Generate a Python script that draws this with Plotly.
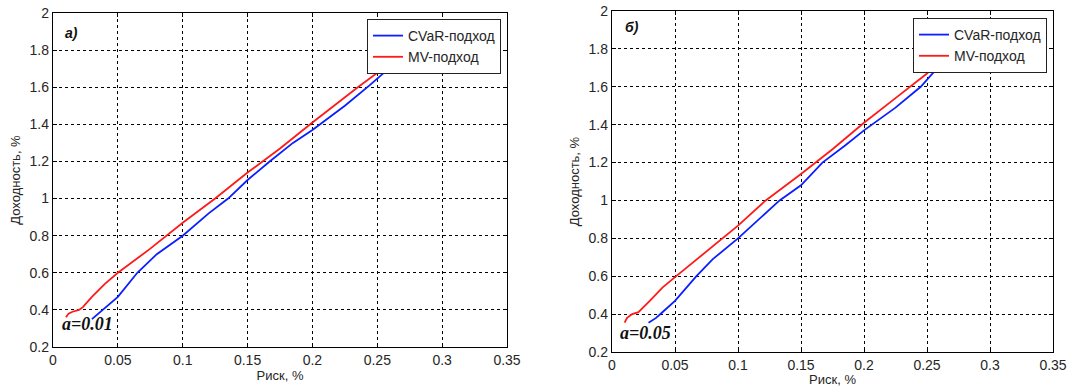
import plotly.graph_objects as go

# ---- data (risk %, return %) ----
# panel a) alpha = 0.01
cvar_risk_a = [0.030, 0.035, 0.040, 0.050, 0.065, 0.080, 0.100, 0.120, 0.135, 0.150,
               0.167, 0.185, 0.200, 0.206, 0.225, 0.244, 0.267, 0.285]
cvar_ret_a = [0.35, 0.38, 0.41, 0.47, 0.60, 0.70, 0.80, 0.92, 1.00, 1.10,
              1.20, 1.30, 1.37, 1.40, 1.50, 1.61, 1.75, 1.85]
mv_risk_a = [0.010, 0.012, 0.015, 0.020, 0.023, 0.030, 0.040, 0.050, 0.075, 0.100,
             0.125, 0.150, 0.175, 0.200, 0.235, 0.250, 0.264, 0.285]
mv_ret_a = [0.36, 0.38, 0.39, 0.40, 0.415, 0.47, 0.54, 0.60, 0.73, 0.87,
            1.00, 1.14, 1.27, 1.41, 1.60, 1.68, 1.75, 1.86]

# panel б) alpha = 0.05
cvar_risk_b = [0.029, 0.035, 0.040, 0.050, 0.067, 0.080, 0.100, 0.120, 0.133, 0.150,
               0.167, 0.185, 0.200, 0.225, 0.245, 0.265, 0.285]
cvar_ret_b = [0.355, 0.38, 0.41, 0.47, 0.60, 0.69, 0.80, 0.92, 1.00, 1.08,
              1.20, 1.29, 1.37, 1.49, 1.60, 1.75, 1.86]
mv_risk_b = [0.010, 0.012, 0.016, 0.021, 0.030, 0.040, 0.050, 0.075, 0.100, 0.122,
             0.150, 0.175, 0.200, 0.225, 0.250, 0.261, 0.285]
mv_ret_b = [0.355, 0.38, 0.40, 0.41, 0.47, 0.54, 0.595, 0.73, 0.867, 1.00,
            1.14, 1.27, 1.41, 1.54, 1.67, 1.75, 1.87]

series_names = ["CVaR-подход", "MV-подход"]
panel_labels = ["а)", "б)"]
alpha_labels = ["a=0.01", "a=0.05"]
x_title = "Риск, %"
y_title = "Доходность, %"
x_ticks = [0, 0.05, 0.1, 0.15, 0.2, 0.25, 0.3, 0.35]
x_ticktext = ["0", "0.05", "0.1", "0.15", "0.2", "0.25", "0.3", "0.35"]
y_ticks = [0.2, 0.4, 0.6, 0.8, 1.0, 1.2, 1.4, 1.6, 1.8, 2.0]
y_ticktext = ["0.2", "0.4", "0.6", "0.8", "1", "1.2", "1.4", "1.6", "1.8", "2"]

W, H = 1068, 387
BLUE = "#0a1eff"
RED = "#ff1a1a"
SANS = "Liberation Sans, Arial, sans-serif"
SERIF = "Liberation Serif, Times New Roman, serif"
TXT = "#262626"

fig = go.Figure()

panels = [
    dict(xa="x", ya="y", leg="legend", cv=(cvar_risk_a, cvar_ret_a), mv=(mv_risk_a, mv_ret_a),
         xdom=(53 / W, 507 / W), ydom=(1 - 347 / H, 1 - 13 / H),
         legpos=(367 / W, 1 - 19 / H), plab=(0.0077, 1.892), alab=(0.0054, 0.326)),
    dict(xa="x2", ya="y2", leg="legend2", cv=(cvar_risk_b, cvar_ret_b), mv=(mv_risk_b, mv_ret_b),
         xdom=(612 / W, 1053 / W), ydom=(1 - 352 / H, 1 - 11 / H),
         legpos=(913 / W, 1 - 18 / H), plab=(0.0087, 1.916), alab=(0.005, 0.302)),
]

layout = dict(
    template="none",
    width=W, height=H,
    margin=dict(l=0, r=0, t=0, b=0),
    paper_bgcolor="white", plot_bgcolor="white",
    font=dict(family=SANS, size=14, color=TXT),
    annotations=[],
)

for i, p in enumerate(panels):
    fig.add_trace(go.Scatter(x=p["cv"][0], y=p["cv"][1], mode="lines", name=series_names[0],
                             line=dict(color=BLUE, width=1.8), xaxis=p["xa"], yaxis=p["ya"],
                             legend=p["leg"]))
    fig.add_trace(go.Scatter(x=p["mv"][0], y=p["mv"][1], mode="lines", name=series_names[1],
                             line=dict(color=RED, width=1.8), xaxis=p["xa"], yaxis=p["ya"],
                             legend=p["leg"]))
    xkey = "xaxis" if i == 0 else "xaxis2"
    ykey = "yaxis" if i == 0 else "yaxis2"
    layout[xkey] = dict(
        domain=list(p["xdom"]), anchor=p["ya"], range=[0, 0.35], automargin=False,
        tickvals=x_ticks, ticktext=x_ticktext, ticks="inside", ticklen=4,
        tickcolor="black", showline=True, linecolor="black", linewidth=1.3, mirror="ticks",
        showgrid=True, gridcolor="black", griddash="dot", gridwidth=1, zeroline=False,
        tickfont=dict(family=SANS, size=14, color=TXT),
        title=dict(text=x_title, font=dict(family=SANS, size=13, color=TXT), standoff=3),
    )
    layout[ykey] = dict(
        domain=list(p["ydom"]), anchor=p["xa"], range=[0.2, 2.0], automargin=False,
        tickvals=y_ticks, ticktext=y_ticktext, ticks="inside", ticklen=4,
        tickcolor="black", showline=True, linecolor="black", linewidth=1.3, mirror="ticks",
        showgrid=True, gridcolor="black", griddash="dot", gridwidth=1, zeroline=False,
        tickfont=dict(family=SANS, size=14, color=TXT),
        title=dict(text=y_title, font=dict(family=SANS, size=13, color=TXT), standoff=6),
    )
    layout[p["leg"]] = dict(
        x=p["legpos"][0], y=p["legpos"][1], xanchor="left", yanchor="top",
        xref="paper", yref="paper",
        bgcolor="white", bordercolor="#222", borderwidth=1,
        font=dict(family=SANS, size=14, color=TXT), tracegroupgap=0,
        itemwidth=30,
    )
    layout["annotations"].append(dict(
        x=p["plab"][0], y=p["plab"][1], xref=p["xa"], yref=p["ya"],
        text="<b><i>" + panel_labels[i] + "</i></b>", showarrow=False,
        xanchor="left", yanchor="middle",
        font=dict(family=SANS, size=14, color="#111")))
    layout["annotations"].append(dict(
        x=p["alab"][0], y=p["alab"][1], xref=p["xa"], yref=p["ya"],
        text="<b><i>" + alpha_labels[i] + "</i></b>", showarrow=False,
        xanchor="left", yanchor="middle",
        font=dict(family=SERIF, size=18, color="#111")))

fig.update_layout(**layout)
fig.write_html("out.html", config={"displayModeBar": False},
               post_script="document.body.style.margin='0px';")
